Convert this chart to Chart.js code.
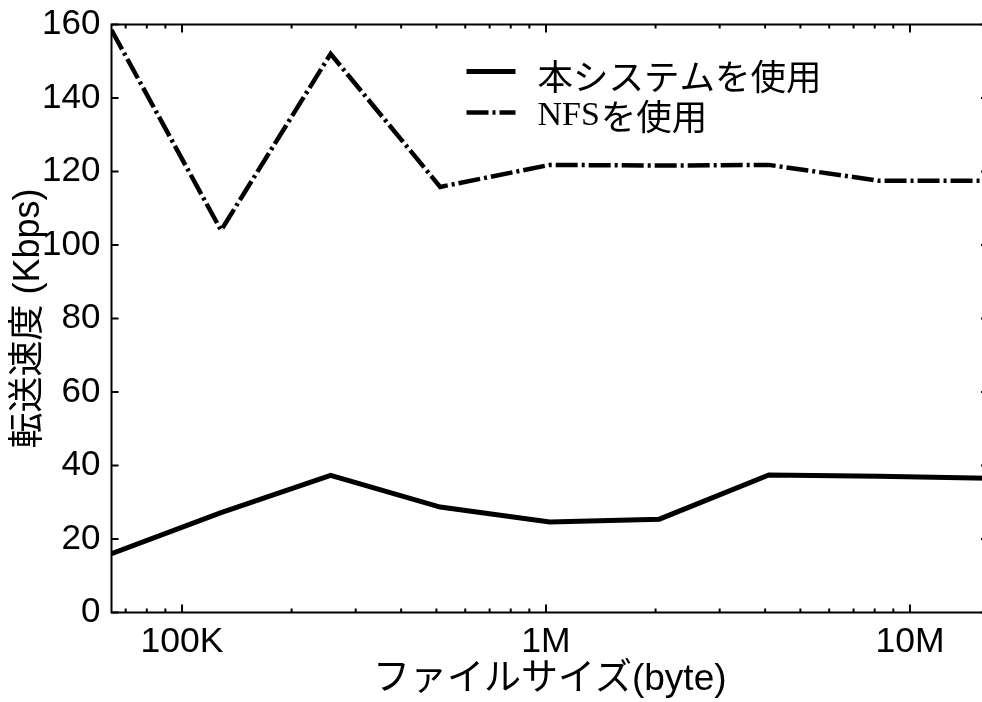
<!DOCTYPE html>
<html>
<head>
<meta charset="utf-8">
<script src="https://cdn.jsdelivr.net/npm/chart.js@4.4.1/dist/chart.umd.min.js"></script>
<style>
  html, body { margin: 0; padding: 0; background: #fff; overflow: hidden; }
  #wrap { position: relative; width: 992px; height: 702px; }
</style>
</head>
<body>
<div id="wrap"><canvas id="rateChart"></canvas></div>
<script>
// file size (KB) and transfer rate (Kbps)
const fileSizes = [64, 128, 256, 512, 1024, 2048, 4096, 8192, 16384];
const ownSystem = [16, 27.2, 37.3, 28.7, 24.6, 25.4, 37.4, 37.1, 36.5];
const nfsRate = [158.5, 104, 152, 115.8, 121.8, 121.6, 121.8, 117.5, 117.5];

const xMajorTicks = [100, 1000, 10000];
const xTickLabels = { 100: '100K', 1000: '1M', 10000: '10M' };
const xMinorTicks = [70, 80, 90, 200, 300, 400, 500, 600, 700, 800, 900,
                     2000, 3000, 4000, 5000, 6000, 7000, 8000, 9000];
const yTicks = [0, 20, 40, 60, 80, 100, 120, 140, 160];

const seriesNames = ['本システムを使用', 'NFSを使用'];

const sansFont = "'Liberation Sans', 'Noto Sans CJK JP', sans-serif";

// box around plot with inward ticks on all four sides
const frameTicks = {
  id: 'frameTicks',
  afterDatasetsDraw(chart) {
    const { ctx, chartArea: a, scales: { x, y } } = chart;
    ctx.save();
    ctx.strokeStyle = '#000';
    ctx.lineWidth = 2;
    ctx.strokeRect(a.left, a.top, a.right - a.left, a.bottom - a.top);
    ctx.beginPath();
    yTicks.forEach(v => {
      const py = y.getPixelForValue(v);
      ctx.moveTo(a.left, py); ctx.lineTo(a.left + 7, py);
      ctx.moveTo(a.right, py); ctx.lineTo(a.right - 7, py);
    });
    xMajorTicks.forEach(v => {
      const px = x.getPixelForValue(v);
      ctx.moveTo(px, a.bottom); ctx.lineTo(px, a.bottom - 8);
      ctx.moveTo(px, a.top); ctx.lineTo(px, a.top + 8);
    });
    xMinorTicks.forEach(v => {
      const px = x.getPixelForValue(v);
      ctx.moveTo(px, a.bottom); ctx.lineTo(px, a.bottom - 4);
      ctx.moveTo(px, a.top); ctx.lineTo(px, a.top + 4);
    });
    ctx.stroke();
    ctx.restore();
  }
};

// legend inside the plot, top right
const insideLegend = {
  id: 'insideLegend',
  afterDraw(chart) {
    const { ctx, chartArea: a } = chart;
    const x0 = a.left + 355, x1 = a.left + 404, tx = a.left + 426;
    const rows = [a.top + 47, a.top + 88];
    ctx.save();
    chart.data.datasets.forEach((ds, i) => {
      ctx.strokeStyle = '#000';
      ctx.lineWidth = ds.borderWidth;
      ctx.setLineDash(ds.borderDash || []);
      ctx.beginPath();
      ctx.moveTo(x0, rows[i]);
      ctx.lineTo(x1, rows[i]);
      ctx.stroke();
    });
    ctx.setLineDash([]);
    ctx.fillStyle = '#000';
    ctx.textBaseline = 'middle';
    ctx.textAlign = 'left';
    ctx.font = "35.5px 'Noto Sans CJK JP', sans-serif";
    ctx.fillText(seriesNames[0], tx, rows[0] + 5);
    // "NFS" is set in a serif face in the original
    ctx.font = "34px 'Liberation Serif', serif";
    ctx.fillText('NFS', tx, rows[1] + 4);
    const w = ctx.measureText('NFS').width;
    ctx.font = "35.5px 'Noto Sans CJK JP', sans-serif";
    ctx.fillText(seriesNames[1].slice(3), tx + w + 1, rows[1] + 4);
    ctx.restore();
  }
};

const ctx = document.getElementById('rateChart').getContext('2d');
new Chart(ctx, {
  type: 'line',
  data: {
    datasets: [{
      label: seriesNames[0],
      data: fileSizes.map((s, i) => ({ x: s, y: ownSystem[i] })),
      borderColor: '#000',
      borderWidth: 5,
      pointRadius: 0,
      tension: 0
    }, {
      label: seriesNames[1],
      data: fileSizes.map((s, i) => ({ x: s, y: nfsRate[i] })),
      borderColor: '#000',
      borderWidth: 4.5,
      borderDash: [22, 4, 3, 4],
      pointRadius: 0,
      tension: 0
    }]
  },
  options: {
    responsive: true,
    maintainAspectRatio: false,
    animation: false,
    layout: { padding: { top: 24.5, right: 4, left: 0, bottom: 0 } },
    plugins: {
      legend: { display: false },
      tooltip: { enabled: false }
    },
    scales: {
      x: {
        type: 'logarithmic',
        min: 64,
        max: 16384,
        afterBuildTicks: scale => { scale.ticks = xMajorTicks.map(v => ({ value: v })); },
        afterFit: scale => {
          scale.height = 89.5;
          scale.paddingLeft = 0;
          scale.paddingRight = 0;
        },
        grid: { display: false, drawTicks: false },
        border: { display: false },
        ticks: {
          autoSkip: false,
          maxRotation: 0,
          padding: 8,
          color: '#000',
          font: { family: sansFont, size: 35.5, lineHeight: 1.2 },
          callback: v => xTickLabels[v] || ''
        },
        title: {
          display: true,
          text: 'ファイルサイズ(byte)',
          color: '#000',
          font: { family: sansFont, size: 37, lineHeight: 1.2 },
          padding: { top: 0, bottom: 0 }
        }
      },
      y: {
        min: 0,
        max: 160,
        afterFit: scale => {
          scale.width = 111.5;
          scale.paddingTop = 0;
          scale.paddingBottom = 0;
        },
        grid: { display: false, drawTicks: false },
        border: { display: false },
        ticks: {
          stepSize: 20,
          padding: 11,
          color: '#000',
          font: { family: sansFont, size: 35, lineHeight: 1.2 }
        },
        title: {
          display: true,
          text: '転送速度 (Kbps)',
          color: '#000',
          font: { family: sansFont, size: 36, lineHeight: 1.2 },
          padding: { top: 7, bottom: 0 }
        }
      }
    }
  },
  plugins: [frameTicks, insideLegend]
});
</script>
</body>
</html>
